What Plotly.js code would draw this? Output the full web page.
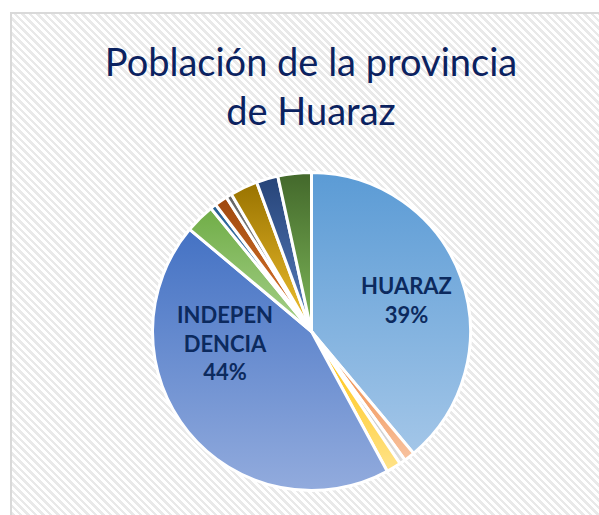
<!DOCTYPE html>
<html>
<head>
<meta charset="utf-8">
<script src="https://cdn.plot.ly/plotly-3.0.1.min.js"></script>
<style>
  html, body { margin: 0; padding: 0; background: #ffffff; width: 599px; height: 515px; overflow: hidden; }
  #bg {
    position: absolute; left: 10px; top: 12px; width: 600px; height: 520px;
    border-left: 2px solid #d9d9d9; border-top: 2px solid #d9d9d9;
    background: repeating-linear-gradient(45deg, #ffffff 0px, #ffffff 2.8px, #e9e9e9 2.8px, #e9e9e9 5.3px);
  }
  #chart { position: absolute; left: 0; top: 0; width: 599px; height: 515px; }
</style>
</head>
<body>
<div id="bg"></div>
<div id="chart"></div>
<script>
// District names (provincia de Huaraz)
const districts = ["HUARAZ", "COCHABAMBA", "COLCABAMBA", "HUANCHAY", "INDEPENDENCIA", "JANGAS",
                   "LA LIBERTAD", "OLLEROS", "PAMPAS", "PARIACOTO", "PIRA", "TARICA"];
// Share of population (%)
const shares = [38.9, 1.1, 0.6, 1.5, 44.0, 3.0, 0.6, 1.3, 0.6, 2.8, 2.2, 3.4];
// Labels shown on the chart
const shownLabels = {"HUARAZ": "HUARAZ", "INDEPENDENCIA": "INDEPEN<br>DENCIA"};

const topColors    = ["#5b9bd5", "#ed7d31", "#a5a5a5", "#ffc000", "#4472c4", "#70ad47",
                      "#255e91", "#9e480e", "#636363", "#997300", "#264478", "#43682b"];
const bottomColors = ["#a3c6e8", "#f8c3a0", "#e0e0e0", "#ffe38a", "#92abdd", "#a6d08a",
                      "#6a9fd0", "#e07a30", "#b0b0b0", "#f2c230", "#5a7fc0", "#7fb85a"];
const midColors    = ["#7aaede", "#f2a982", "#cfcfcf", "#ffd766", "#6a8bd0", "#8dc26a",
                      "#3f7ab0", "#c0601e", "#8a8a8a", "#cc9a18", "#3a5898", "#5e8c40"];

const W = 599, H = 515;
const cx = 311.5, cy = 331.5, r = 159;

const trace = {
  type: "pie",
  labels: districts,
  values: shares,
  sort: false,
  direction: "clockwise",
  rotation: 0,
  textinfo: "none",
  hoverinfo: "label+percent",
  marker: { colors: midColors, line: { color: "#ffffff", width: 3 } },
  domain: { x: [(cx - r) / W, (cx + r) / W], y: [(H - cy - r) / H, (H - cy + r) / H] },
  showlegend: false
};

const total = shares.reduce((a, b) => a + b, 0);
function pct(name) { return Math.round(shares[districts.indexOf(name)] / total * 100) + "%"; }

const labelFont = { family: "Lato, 'Open Sans', sans-serif", size: 22, color: "#0c2a5e", weight: 700 };

const layout = {
  width: W, height: H,
  margin: { l: 0, r: 0, t: 0, b: 0 },
  paper_bgcolor: "rgba(0,0,0,0)",
  plot_bgcolor: "rgba(0,0,0,0)",
  title: {
    text: "Población de la provincia<br>de Huaraz",
    font: { family: "Lato, 'Open Sans', sans-serif", size: 38, color: "#0b2260" },
    x: 311 / W, xanchor: "center",
    y: 1 - 76 / H, yanchor: "top", yref: "container", xref: "container"
  },
  annotations: [
    { text: "<b>" + shownLabels["HUARAZ"] + "<br>" + pct("HUARAZ") + "</b>", xref: "paper", yref: "paper",
      x: 406 / W, y: 1 - 300 / H, xanchor: "center", yanchor: "middle", showarrow: false, font: labelFont },
    { text: "<b>" + shownLabels["INDEPENDENCIA"] + "<br>" + pct("INDEPENDENCIA") + "</b>", xref: "paper", yref: "paper",
      x: 225 / W, y: 1 - 343 / H, xanchor: "center", yanchor: "middle", showarrow: false, font: labelFont }
  ]
};

Plotly.newPlot("chart", [trace], layout, { displayModeBar: false, staticPlot: true }).then(function (gd) {
  const ns = "http://www.w3.org/2000/svg";
  const svg = gd.querySelector(".main-svg");
  let defs = svg.querySelector("defs");
  if (!defs) { defs = document.createElementNS(ns, "defs"); svg.insertBefore(defs, svg.firstChild); }
  const paths = gd.querySelectorAll("g.slice path.surface");
  paths.forEach(function (p, i) {
    const g = document.createElementNS(ns, "linearGradient");
    g.setAttribute("id", "sliceGrad" + i);
    g.setAttribute("x1", "0"); g.setAttribute("y1", "0");
    g.setAttribute("x2", "0"); g.setAttribute("y2", "1");
    const s1 = document.createElementNS(ns, "stop");
    s1.setAttribute("offset", "0"); s1.setAttribute("stop-color", topColors[i]);
    const s2 = document.createElementNS(ns, "stop");
    s2.setAttribute("offset", "1"); s2.setAttribute("stop-color", bottomColors[i]);
    g.appendChild(s1); g.appendChild(s2);
    defs.appendChild(g);
    p.style.fill = "url(#sliceGrad" + i + ")";
  });
});
</script>
</body>
</html>
